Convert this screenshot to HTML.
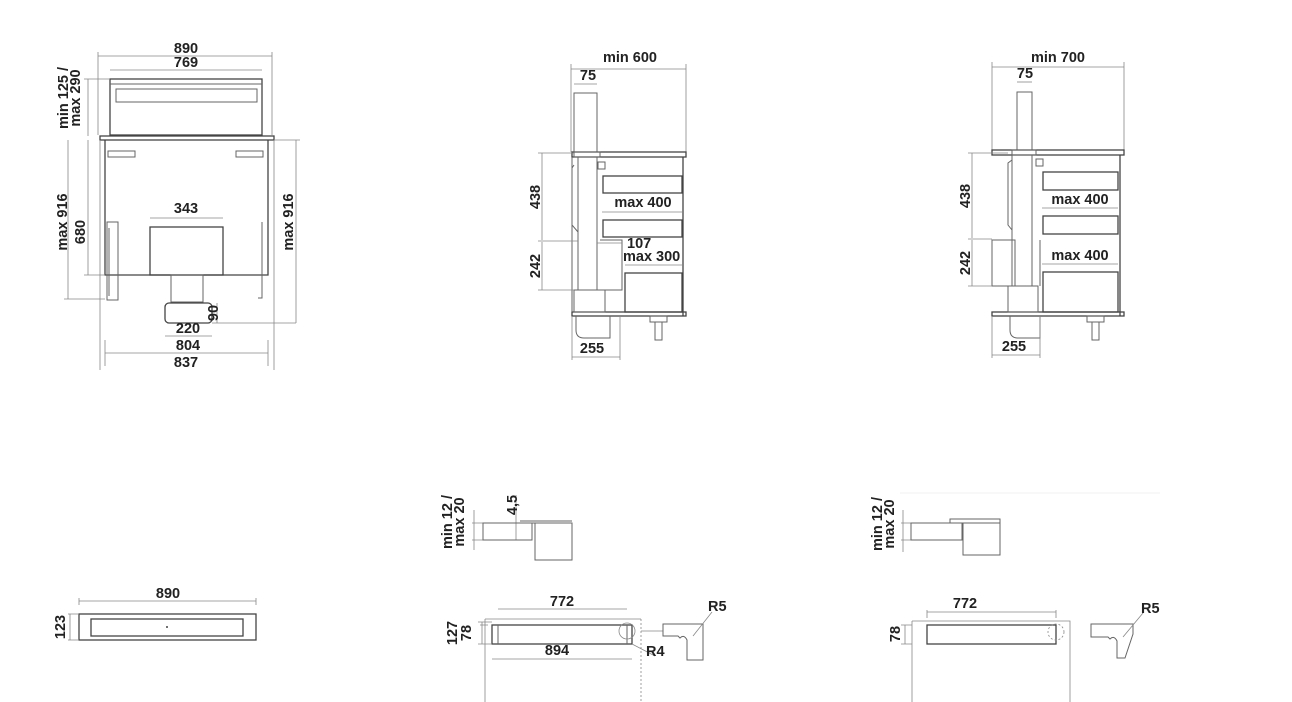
<!DOCTYPE html>
<html><head><meta charset="utf-8"><style>
html,body{margin:0;padding:0;background:#fff;}
svg{display:block;}
text{font-family:"Liberation Sans",sans-serif;font-size:14.5px;fill:#222;font-weight:bold;}
.l{stroke:#666;stroke-width:1;fill:none;}
.d{stroke:#888;stroke-width:0.8;fill:none;}
.t{stroke:#444;stroke-width:1.3;fill:none;}
</style></head><body>
<svg width="1292" height="702" viewBox="0 0 1292 702" xmlns="http://www.w3.org/2000/svg">
<!-- LEFT FRONT VIEW -->
<text x="186" y="53" text-anchor="middle">890</text>
<path class="d" d="M98 56H272M98 52V135M272 52V135"/>
<text x="186" y="67" text-anchor="middle">769</text>
<path class="d" d="M110 70H262"/>
<rect class="t" x="110" y="79" width="152" height="56"/>
<path class="l" d="M110 84H262"/>
<rect class="l" x="116" y="89" width="141" height="13"/>
<rect class="t" x="100" y="136" width="174" height="4"/>
<path class="t" d="M105 140V275H268V140"/>
<rect class="l" x="108" y="151" width="27" height="6"/>
<rect class="l" x="236" y="151" width="27" height="6"/>
<rect class="l" x="107" y="222" width="11" height="78"/>
<path class="l" d="M109 228V296M262 222V298H258"/>
<text x="186" y="213" text-anchor="middle">343</text>
<path class="d" d="M150 218H223"/>
<rect class="t" x="150" y="227" width="73" height="48"/>
<rect class="l" x="171" y="275" width="32" height="27"/>
<rect class="t" x="165" y="303" width="47" height="20" rx="4"/>
<path class="d" d="M217 303V323M212 323H296"/>
<text x="220" y="313" transform="rotate(-90 220 313)" text-anchor="middle" dy="-2">90</text>
<text x="188" y="333" text-anchor="middle">220</text>
<path class="d" d="M165 336H212"/>
<text x="188" y="350" text-anchor="middle">804</text>
<path class="d" d="M105 353H268M105 340V366M268 340V366"/>
<text x="186" y="367" text-anchor="middle">837</text>
<path class="d" d="M100 140V370M274 140V370"/>
<path class="d" d="M68 140V299M64 299H105M88 140V275M84 275H105M88 79V136M84 79H110"/>
<text transform="translate(67,222) rotate(-90)" text-anchor="middle">max 916</text>
<text transform="translate(85,232) rotate(-90)" text-anchor="middle">680</text>
<text transform="translate(68,98) rotate(-90)" text-anchor="middle">min 125 /</text>
<text transform="translate(80,98) rotate(-90)" text-anchor="middle">max 290</text>
<path class="d" d="M296 140V323M274 140H300"/>
<text transform="translate(293,222) rotate(-90)" text-anchor="middle">max 916</text>

<!-- MIDDLE SIDE VIEW -->
<text x="630" y="62" text-anchor="middle">min 600</text>
<path class="d" d="M571 69H686M571 64V152M686 64V152"/>
<text x="588" y="80" text-anchor="middle">75</text>
<path class="d" d="M574 84H597"/>
<rect class="l" x="574" y="93" width="23" height="59"/>
<rect class="t" x="572" y="152" width="114" height="5"/>
<rect class="l" x="574" y="152" width="26" height="5" fill="#ccc"/>
<path class="t" d="M683 157V316"/>
<rect class="t" x="572" y="312" width="114" height="4"/>
<path class="l" d="M572 157V312M578 157V290M597 157V290M574 165L572 168V225L578 232"/>
<rect class="l" x="598" y="162" width="7" height="7"/>
<rect class="t" x="603" y="176" width="79" height="17"/>
<text x="643" y="207" text-anchor="middle">max 400</text>
<path class="d" d="M602 212H682"/>
<rect class="t" x="603" y="220" width="79" height="17"/>
<path class="l" d="M600 240H622V290H597"/>
<text x="627" y="248">107</text>
<text x="623" y="261">max 300</text>
<path class="d" d="M597 243H622M625 265H682"/>
<rect class="t" x="625" y="273" width="57" height="39"/>
<rect class="l" x="574" y="290" width="31" height="22"/>
<path class="l" d="M576 316V330Q576 338 584 338H610V316"/>
<rect class="l" x="650" y="316" width="17" height="6"/>
<rect class="l" x="655" y="322" width="7" height="18"/>
<path class="d" d="M542 153V240M542 242V290M538 153H574M538 241H578M538 290H574"/>
<text transform="translate(540,197) rotate(-90)" text-anchor="middle">438</text>
<text transform="translate(540,266) rotate(-90)" text-anchor="middle">242</text>
<text x="592" y="353" text-anchor="middle">255</text>
<path class="d" d="M572 357H620M572 316V360M620 316V360"/>

<!-- RIGHT SIDE VIEW -->
<text x="1058" y="62" text-anchor="middle">min 700</text>
<path class="d" d="M992 67H1124M992 62V150M1124 62V150"/>
<text x="1025" y="78" text-anchor="middle">75</text>
<path class="d" d="M1017 82H1032"/>
<rect class="l" x="1017" y="92" width="15" height="58"/>
<rect class="t" x="992" y="150" width="132" height="5"/>
<rect class="l" x="1012" y="150" width="24" height="5" fill="#ccc"/>
<path class="t" d="M1120 155V316"/>
<rect class="t" x="992" y="312" width="132" height="4"/>
<path class="l" d="M1012 155V286M1032 155V286M1040 240V286M1012 160L1008 163V225L1012 230"/>
<rect class="l" x="1036" y="159" width="7" height="7"/>
<rect class="t" x="1043" y="172" width="75" height="18"/>
<text x="1080" y="204" text-anchor="middle">max 400</text>
<path class="d" d="M1042 208H1118"/>
<rect class="t" x="1043" y="216" width="75" height="18"/>
<text x="1080" y="260" text-anchor="middle">max 400</text>
<path class="d" d="M1042 264H1118"/>
<rect class="t" x="1043" y="272" width="75" height="40"/>
<rect class="l" x="992" y="240" width="23" height="46"/>
<rect class="l" x="1008" y="286" width="30" height="26"/>
<path class="l" d="M1010 316V330Q1010 338 1018 338H1040V316"/>
<rect class="l" x="1087" y="316" width="17" height="6"/>
<rect class="l" x="1092" y="322" width="7" height="18"/>
<path class="d" d="M972 153V238M972 240V286M968 153H1008M968 239H992M968 286H992"/>
<text transform="translate(970,196) rotate(-90)" text-anchor="middle">438</text>
<text transform="translate(970,263) rotate(-90)" text-anchor="middle">242</text>
<text x="1014" y="351" text-anchor="middle">255</text>
<path class="d" d="M992 355H1040M992 316V358M1040 316V358"/>

<!-- BOTTOM LEFT -->
<text x="168" y="598" text-anchor="middle">890</text>
<path class="d" d="M79 601H256M79 598V605M256 598V605"/>
<rect class="t" x="79" y="614" width="177" height="26"/>
<rect class="t" x="91" y="619" width="152" height="17"/>
<circle cx="167" cy="627" r="1" fill="#444"/>
<path class="d" d="M70 614V640M68 614H79M68 640H79"/>
<text transform="translate(65,627) rotate(-90)" text-anchor="middle">123</text>

<!-- BOTTOM MIDDLE -->
<text transform="translate(452,522) rotate(-90)" text-anchor="middle">min 12 /</text>
<text transform="translate(464,522) rotate(-90)" text-anchor="middle">max 20</text>
<path class="d" d="M474 510V550M472 523H483M472 540H483M516 495V540"/>
<text transform="translate(517,505) rotate(-90)" text-anchor="middle">4,5</text>
<rect class="l" x="483" y="523" width="49" height="17"/>
<path class="l" d="M520 523H572V560H535V523"/>
<path class="l" d="M520 521H572"/>
<text x="562" y="606" text-anchor="middle">772</text>
<path class="d" d="M498 609H627"/>
<path class="d" d="M485 619H641M485 619V702"/>
<path class="d" d="M641 619V702" stroke-dasharray="2 2"/>
<rect class="t" x="492" y="625" width="140" height="19"/>
<path class="l" d="M498 625V644M627 625V644"/>
<circle class="d" cx="627" cy="631" r="8"/>
<path class="d" d="M632 644L655 656"/>
<text x="646" y="656">R4</text>
<text x="557" y="655" text-anchor="middle">894</text>
<path class="d" d="M492 659H632"/>
<path class="d" d="M482 622V644M478 622H492M478 644H492M480 625H488M480 644H488"/>
<text transform="translate(457,633) rotate(-90)" text-anchor="middle">127</text>
<text transform="translate(471,633) rotate(-90)" text-anchor="middle">78</text>
<path class="d" d="M641 631H663"/>
<path class="l" d="M663 624H703V660H687V640Q684 634 680 638L678 636H663Z"/>
<path class="d" d="M693 636L712 612"/>
<text x="708" y="611">R5</text>

<!-- BOTTOM RIGHT -->
<path d="M900 493H1160" style="stroke:#f0f0f0;stroke-width:1;fill:none"/>
<text transform="translate(882,524) rotate(-90)" text-anchor="middle">min 12 /</text>
<text transform="translate(894,524) rotate(-90)" text-anchor="middle">max 20</text>
<path class="d" d="M903 510V552M901 523H911M901 540H911"/>
<rect class="l" x="911" y="523" width="51" height="17"/>
<rect class="l" x="963" y="523" width="37" height="32"/>
<rect class="l" x="950" y="519" width="50" height="4"/>
<text x="965" y="608" text-anchor="middle">772</text>
<path class="d" d="M927 612H1056M927 610V618M1056 610V618"/>
<path class="d" d="M912 621H1070V702M912 621V702"/>
<rect class="t" x="927" y="625" width="129" height="19"/>
<circle class="d" cx="1056" cy="632" r="8" stroke-dasharray="2 2"/>
<path class="d" d="M905 625V644M901 625H912M901 644H912"/>
<text transform="translate(900,634) rotate(-90)" text-anchor="middle">78</text>
<path class="l" d="M1091 624H1133V634L1125 658H1117V641Q1114 635 1110 639L1108 637H1091Z"/>
<path class="d" d="M1123 637L1143 613"/>
<text x="1141" y="613">R5</text>
</svg>
</body></html>
